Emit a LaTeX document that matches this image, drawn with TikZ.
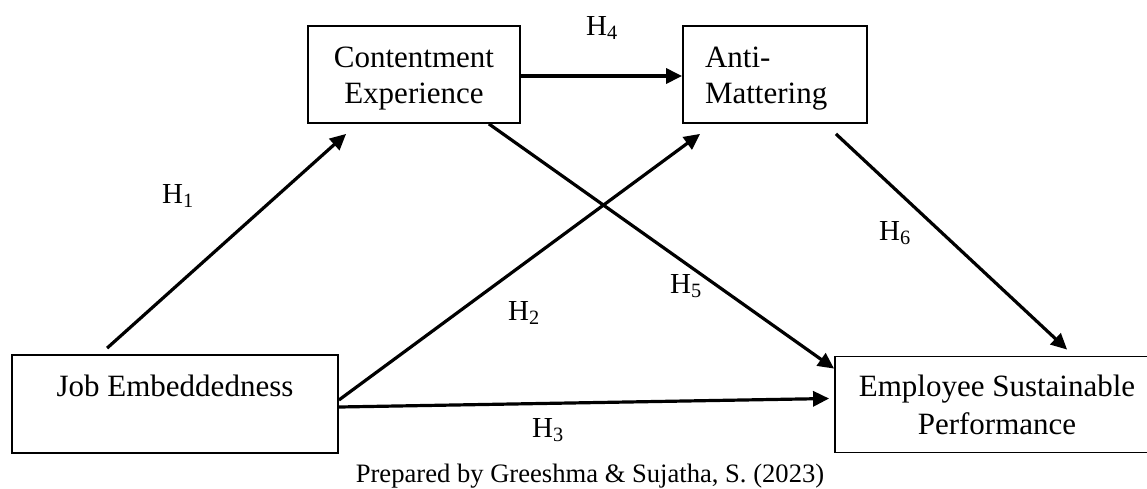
\documentclass[tikz,border=0pt]{standalone}
\usepackage{fontspec}
\setmainfont{Liberation Serif}
\usetikzlibrary{arrows.meta,calc}
\begin{document}
\begin{tikzpicture}[x=1pt,y=-1pt,
  box/.style={draw, line width=1.8pt, inner sep=0pt, align=center, font=\fontsize{31}{36}\selectfont},
  arr/.style={line width=3.2pt, -{Triangle[length=16pt,width=15pt]}},
  hyp/.style={anchor=base west, inner sep=0pt, font=\fontsize{29}{34}\selectfont},
  captext/.style={anchor=base, inner sep=0pt, font=\fontsize{26.6}{30}\selectfont}]
\clip (0,0) rectangle (1147,488);
% boxes
\node[box, minimum width=212pt, minimum height=97pt] (ce) at (414,74.5) {\rule{0pt}{28pt}Contentment\\Experience};
\node[box, align=left, text width=140pt, inner xsep=22pt, minimum height=97pt] (am) at (775,74.5) {\rule{0pt}{28pt}Anti-\\Mattering};
\node[box, minimum width=326pt, minimum height=98pt] (je) at (175,404) {Job Embeddedness\\\mbox{}};
\node[box, minimum width=324pt, minimum height=96pt] (esp) at (997,404.5) {Employee Sustainable\\[2pt]Performance};
% connectors
\draw[arr] ($(je.north west)+(96,-6)$) -- ($(ce.south west)+(39,10)$);
\draw[arr] ($(je.east)+(0,-4)$) -- ($(am.south west)+(18,10)$);
\draw[arr] ($(je.east)+(0,3)$) -- ($(esp.west)+(-5,-6)$);
\draw[arr] ($(ce.east)+(0,1.5)$) -- ($(am.west)+(0,1.5)$);
\draw[arr] ($(ce.south east)+(-32,0)$) -- ($(esp.north west)+(0,13)$);
\draw[arr] ($(am.south east)+(-32,10)$) -- ($(esp.north west)+(233,-6)$);
% labels
\node[hyp] (h1) at (162,203) {H\textsubscript{1}};
\node[hyp] (h2) at (508,320) {H\textsubscript{2}};
\node[hyp] (h3) at (532,437) {H\textsubscript{3}};
\node[hyp] (h4) at (586,35) {H\textsubscript{4}};
\node[hyp] (h5) at (670,293) {H\textsubscript{5}};
\node[hyp] (h6) at (879,240) {H\textsubscript{6}};
\node[captext] (caption) at (590,482) {Prepared by Greeshma \& Sujatha, S. (2023)};
\end{tikzpicture}
\end{document}
